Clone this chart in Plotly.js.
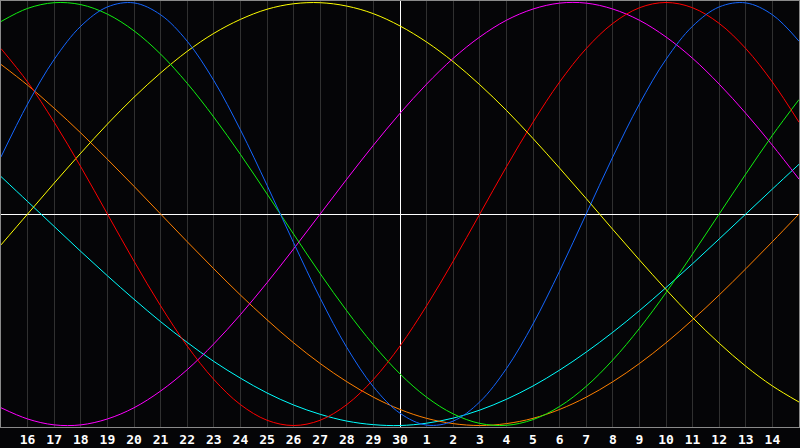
<!DOCTYPE html>
<html>
<head>
<meta charset="utf-8">
<script src="https://cdn.plot.ly/plotly-3.0.1.min.js"></script>
<style>html,body{margin:0;padding:0;background:#050507;}#chart{width:800px;height:448px;}</style>
</head>
<body>
<div id="chart"></div>
<script>
// Day offsets relative to the 30th (vertical white line)
const days = [-15,-14,-13,-12,-11,-10,-9,-8,-7,-6,-5,-4,-3,-2,-1,0,1,2,3,4,5,6,7,8,9,10,11,12,13,14,15];
const tickDays = [-14,-13,-12,-11,-10,-9,-8,-7,-6,-5,-4,-3,-2,-1,0,1,2,3,4,5,6,7,8,9,10,11,12,13,14];
const tickLabels = ['16','17','18','19','20','21','22','23','24','25','26','27','28','29','30','1','2','3','4','5','6','7','8','9','10','11','12','13','14'];

// Cycle values (percent) for each day
const physical = [27.0,52.0,73.1,88.8,97.9,99.8,94.2,81.7,63.1,39.8,13.6,-13.6,-39.8,-63.1,-81.7,-94.2,-99.8,-97.9,-88.8,-73.1,-52.0,-27.0,0,27.0,52.0,73.1,88.8,97.9,99.8,94.2,81.7];
const emotional = [78.2,62.4,43.4,22.3,0,-22.3,-43.4,-62.4,-78.2,-90.1,-97.5,-100,-97.5,-90.1,-78.2,-62.4,-43.4,-22.3,0,22.3,43.4,62.4,78.2,90.1,97.5,100,97.5,90.1,78.2,62.4,43.4];
const intellectual = [91.0,97.2,99.9,99.0,94.5,86.6,75.6,61.8,45.8,28.2,9.5,-9.5,-28.2,-45.8,-61.8,-75.6,-86.6,-94.5,-99.0,-99.9,-97.2,-91.0,-81.5,-69.0,-54.1,-37.2,-18.9,0,18.9,37.2,54.1];
const intuitive = [-91.6,-96.9,-99.7,-99.7,-96.9,-91.6,-83.7,-73.6,-61.4,-47.6,-32.5,-16.5,0,16.5,32.5,47.6,61.4,73.6,83.7,91.6,96.9,99.7,99.7,96.9,91.6,83.7,73.6,61.4,47.6,32.5,16.5];
const aesthetic = [-14.6,0,14.6,28.8,42.5,55.2,66.7,76.9,85.4,92.0,96.8,99.4,99.9,98.3,94.7,88.9,81.3,72.0,61.1,49.0,35.7,21.7,7.3,-7.3,-21.7,-35.7,-49.0,-61.1,-72.0,-81.3,-88.9];
const awareness = [70.7,60.9,50.0,38.3,25.9,13.1,0,-13.1,-25.9,-38.3,-50.0,-60.9,-70.7,-79.3,-86.6,-92.4,-96.6,-99.1,-100,-99.1,-96.6,-92.4,-86.6,-79.3,-70.7,-60.9,-50.0,-38.3,-25.9,-13.1,0];
const spiritual = [17.7,5.9,-5.9,-17.7,-29.2,-40.3,-50.9,-60.7,-69.7,-77.6,-84.6,-90.3,-94.7,-97.9,-99.6,-100,-98.9,-96.5,-92.7,-87.6,-81.3,-73.8,-65.3,-55.9,-45.7,-34.8,-23.5,-11.8,0,11.8,23.5];

const seriesList = [
  {name:'Spiritual', y: spiritual, color:'#00ffff'},
  {name:'Awareness', y: awareness, color:'#ff8000'},
  {name:'Aesthetic', y: aesthetic, color:'#ffff00'},
  {name:'Intuitive', y: intuitive, color:'#ff00ff'},
  {name:'Intellectual', y: intellectual, color:'#10f010'},
  {name:'Emotional', y: emotional, color:'#ff0000'},
  {name:'Physical', y: physical, color:'#1466ff'}
];

const traces = seriesList.map(s => ({
  type:'scatter', mode:'lines', name:s.name, x: days, y: s.y,
  line:{color:s.color, width:1, shape:'spline', smoothing:1},
  hoverinfo:'skip'
}));

const layout = {
  width:800, height:448,
  margin:{l:1, r:1, t:1, b:21, pad:0},
  paper_bgcolor:'#050507', plot_bgcolor:'#050507',
  showlegend:false,
  xaxis:{
    range:[-15,15], dtick:1, tick0:0,
    showgrid:true, gridcolor:'#303030', gridwidth:1,
    zeroline:true, zerolinecolor:'#ffffff', zerolinewidth:1,
    showline:true, linecolor:'#8a8a8a', linewidth:1, mirror:true,
    tickmode:'array', tickvals: tickDays, ticktext: tickLabels,
    ticks:'', ticklabelstandoff:0,
    tickfont:{family:'DejaVu Sans Mono', size:13, color:'#ffffff', weight:'bold'},
    fixedrange:true
  },
  yaxis:{
    range:[-100.7,100.7],
    showgrid:false, showticklabels:false, ticks:'',
    zeroline:true, zerolinecolor:'#ffffff', zerolinewidth:1,
    showline:true, linecolor:'#8a8a8a', linewidth:1, mirror:true,
    fixedrange:true
  }
};

Plotly.newPlot('chart', traces, layout, {staticPlot:true, displayModeBar:false});
</script>
</body>
</html>
